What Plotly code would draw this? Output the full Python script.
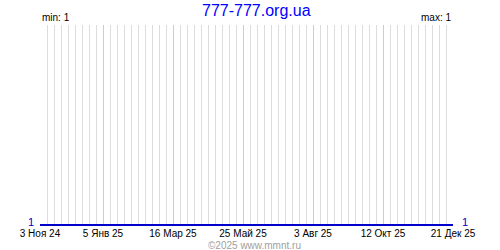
import pandas as pd
import plotly.graph_objects as go

# data
dates = ["2024-11-03", "2025-12-21"]
values = [1, 1]
tick_dates = ["2024-11-03", "2025-01-05", "2025-03-16", "2025-05-25",
              "2025-08-03", "2025-10-12", "2025-12-21"]
tick_labels = ["3 Ноя 24", "5 Янв 25", "16 Мар 25", "25 Май 25",
               "3 Авг 25", "12 Окт 25", "21 Дек 25"]
title_text = "777-777.org.ua"
min_text = "min: 1"
max_text = "max: 1"
footer_text = "©2025 www.mmnt.ru"

FONT = "Liberation Sans, Arial, sans-serif"

# weekly grid positions (excluding the labelled dates)
weekly = pd.date_range(tick_dates[0], tick_dates[-1], freq="7D")
major_set = set(pd.to_datetime(tick_dates))
minor_vals = [d.strftime("%Y-%m-%d") for d in weekly if d not in major_set]

XR = ["2024-11-03", "2025-12-21"]
YR = [0.995, 2]

fig = go.Figure()
fig.add_trace(go.Scatter(x=dates, y=values, mode="lines",
                         xaxis="x2", yaxis="y2",
                         line=dict(color="#0000cc", width=2),
                         hoverinfo="skip", showlegend=False))
fig.add_trace(go.Scatter(x=dates, y=values, mode="lines",
                         xaxis="x", yaxis="y",
                         line=dict(color="#0000cc", width=2),
                         hoverinfo="skip", showlegend=False))

fig.update_layout(
    width=500, height=250,
    margin=dict(l=40, r=47, t=25, b=24),
    paper_bgcolor="white", plot_bgcolor="white",
    font=dict(family=FONT, size=10, color="black"),
    xaxis=dict(
        type="date", range=XR,
        tickmode="array", tickvals=tick_dates, ticktext=tick_labels,
        showgrid=True, gridcolor="#ffb8b8", gridwidth=1,
        ticks="", showline=False, zeroline=False,
        tickfont=dict(family=FONT, size=10, color="black"),
        ticklabelstandoff=0,
    ),
    xaxis2=dict(
        type="date", range=XR, overlaying="x", side="top",
        tickmode="array", tickvals=minor_vals, showticklabels=False,
        showgrid=True, gridcolor="#dcdcdc", gridwidth=1,
        ticks="", showline=False, zeroline=False,
    ),
    yaxis=dict(
        range=YR, tickmode="array", tickvals=[1, 2], ticktext=["1", ""],
        showgrid=True, gridcolor="#dcdcdc", zeroline=False, showline=False,
        tickfont=dict(family=FONT, size=11, color="#0000cc"), ticks="",
        ticklabelstandoff=5, ticklabelshift=-3,
    ),
    yaxis2=dict(
        range=YR, overlaying="y", side="right",
        tickmode="array", tickvals=[1], ticktext=["1"],
        showgrid=False, zeroline=False, showline=False,
        tickfont=dict(family=FONT, size=11, color="#0000cc"), ticks="",
        ticklabelstandoff=8, ticklabelshift=-3,
    ),
    annotations=[
        dict(text=title_text, x=0.525, y=1.124, xref="paper", yref="paper",
             xanchor="center", yanchor="top", showarrow=False,
             font=dict(family=FONT, size=16, color="#0000ff")),
        dict(text=min_text, x=0, y=1, xref="paper", yref="paper",
             xanchor="left", yanchor="bottom", showarrow=False, xshift=0,
             font=dict(family=FONT, size=10, color="black")),
        dict(text=max_text, x=1, y=1, xref="paper", yref="paper",
             xanchor="right", yanchor="bottom", showarrow=False,
             font=dict(family=FONT, size=10, color="black")),
        dict(text=footer_text, x=0.52, y=-0.124, yshift=-2,
             xref="paper", yref="paper",
             xanchor="center", yanchor="bottom", showarrow=False,
             font=dict(family=FONT, size=10, color="#a0a0a0")),
    ],
)

fig.write_html("out.html", config={"displayModeBar": False})
